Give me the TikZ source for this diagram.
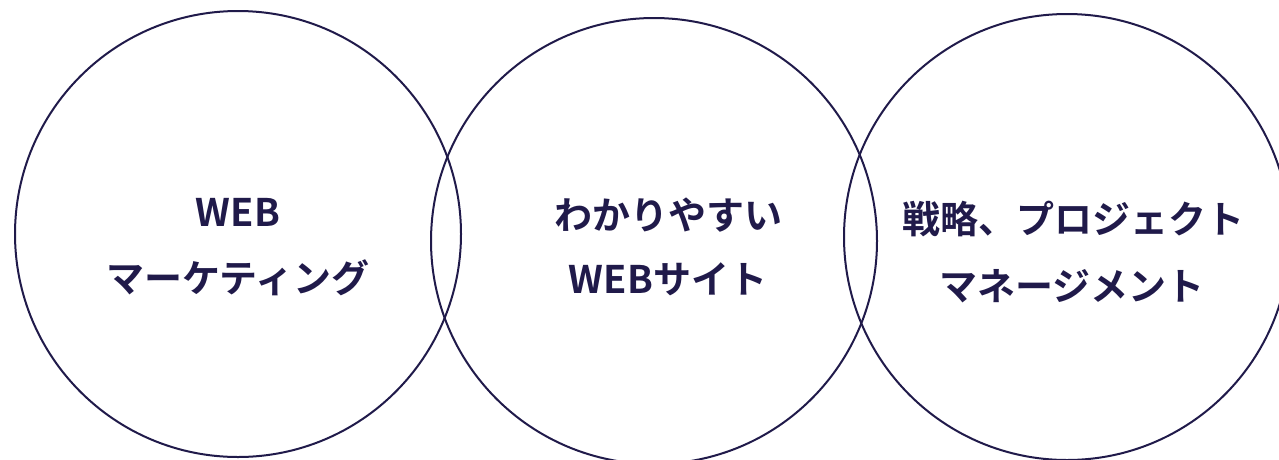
\documentclass[tikz,border=0pt]{standalone}
\usepackage{fontspec}
\newfontfamily\jp{Noto Sans CJK JP}[BoldFont=* Bold]
\definecolor{navy}{RGB}{32,26,74}
\tikzset{
  ring/.style={circle, draw=navy, line width=2pt, minimum size=446pt, inner sep=0pt},
  label/.style={text=navy, anchor=base, inner sep=0pt, font=\jp\bfseries\fontsize{38}{44}\selectfont}
}
\begin{document}
\begin{tikzpicture}[x=1pt,y=-1pt]
\useasboundingbox (0,0) rectangle (1279,459);
\node[ring] (c1) at (238,234) {};
\node[ring] (c2) at (654,241) {};
\node[ring] (c3) at (1067,237) {};
\node[label] (t1a) at (238,226) {WEB};
\node[label] (t1b) at (238,292) {マーケティング};
\node[label] (t2a) at (668,229) {わかりやすい};
\node[label] (t2b) at (668,293) {WEBサイト};
\node[label] (t3a) at (1073,233) {戦略、プロジェクト};
\node[label] (t3b) at (1072,300) {マネージメント};
\end{tikzpicture}
\end{document}
